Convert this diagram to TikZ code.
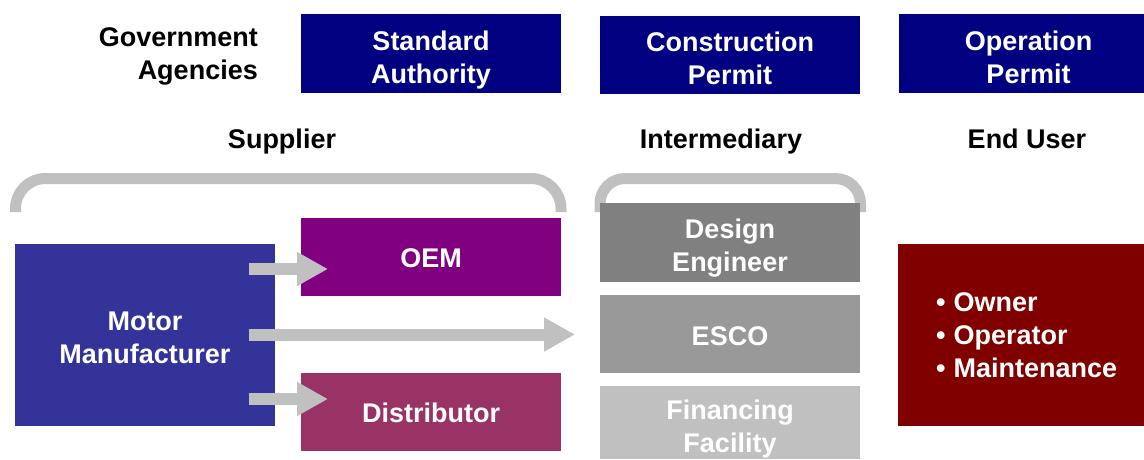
\documentclass[tikz,border=0pt]{standalone}
\usepackage{fontspec}
\setmainfont{Liberation Sans}
\usetikzlibrary{arrows.meta}
\definecolor{govblue}{HTML}{000080}
\definecolor{mmblue}{HTML}{333399}
\definecolor{oemc}{HTML}{800080}
\definecolor{distc}{HTML}{993366}
\definecolor{dgray}{HTML}{808080}
\definecolor{mgray}{HTML}{999999}
\definecolor{lgray}{HTML}{C0C0C0}
\definecolor{enduser}{HTML}{800000}
\tikzset{
  lbl/.style={font=\bfseries\fontsize{27}{33}\selectfont, align=center, inner sep=0},
  box/.style={lbl, text=white, minimum width=#1, anchor=center},
  bracketline/.style={draw=lgray, line width=11pt, rounded corners=#1},
  blockarrow/.style={draw=lgray, line width=12pt, -{Triangle[length=31pt,width=32pt]}},
}
\begin{document}
\begin{tikzpicture}[x=1pt,y=-1pt]
\useasboundingbox (0,0) rectangle (1144,459);
% brackets
\draw[bracketline=30] (15.5,212) -- (15.5,178.5) -- (561,178.5) -- (561,212);
\draw[bracketline=25] (600,212) -- (600,178.5) -- (860.5,178.5) -- (860.5,212);
% government row
\node[lbl, align=right, anchor=east] (gov) at (258,56) {Government\\Agencies};
\fill[govblue] (301,14) rectangle (561,93);
\node[box=260pt] (sa) at (431,60) {Standard\\Authority};
\fill[govblue] (600,16) rectangle (860,94);
\node[box=260pt] (cp) at (730,58) {Construction\\Permit};
\fill[govblue] (899,14) rectangle (1144,93);
\node[box=245pt] (op) at (1028.5,57) {Operation\\Permit};
% headings
\node[lbl] (sup) at (282,142) {Supplier};
\node[lbl] (inter) at (721,142) {Intermediary};
\node[lbl] (eu) at (1027,139) {End User};
% supplier boxes
\fill[mmblue] (15,244) rectangle (275,426);
\node[box=260pt] (mm) at (145,337.5) {Motor\\Manufacturer};
\fill[oemc] (301,218) rectangle (561,296);
\node[box=260pt] (oem) at (431,258) {OEM};
\fill[distc] (301,373) rectangle (561,451);
\node[box=260pt] (dist) at (431,413) {Distributor};
% intermediary boxes
\fill[dgray] (600,203) rectangle (860,282);
\node[box=260pt] (de) at (730,248) {Design\\Engineer};
\fill[mgray] (600,295) rectangle (860,373);
\node[box=260pt] (esco) at (730,336) {ESCO};
\fill[lgray] (600,386) rectangle (860,459);
\node[box=260pt] (ff) at (730,429) {Financing\\Facility};
% end user
\fill[enduser] (898,244) rectangle (1144,426);
\node[lbl, align=left, text=white, anchor=west] (users) at (936,335.5) {\textbullet\hspace{8pt}Owner\\\textbullet\hspace{8pt}Operator\\\textbullet\hspace{8pt}Maintenance};
% arrows
\coordinate (a1s) at (249,269);
\coordinate (a1e) at (328,269);
\coordinate (a2s) at (249,334.5);
\coordinate (a2e) at (575,334.5);
\coordinate (a3s) at (249,399);
\coordinate (a3e) at (328,399);
\draw[blockarrow] (a1s) -- (a1e);
\draw[blockarrow] (a2s) -- (a2e);
\draw[blockarrow] (a3s) -- (a3e);
\end{tikzpicture}
\end{document}
